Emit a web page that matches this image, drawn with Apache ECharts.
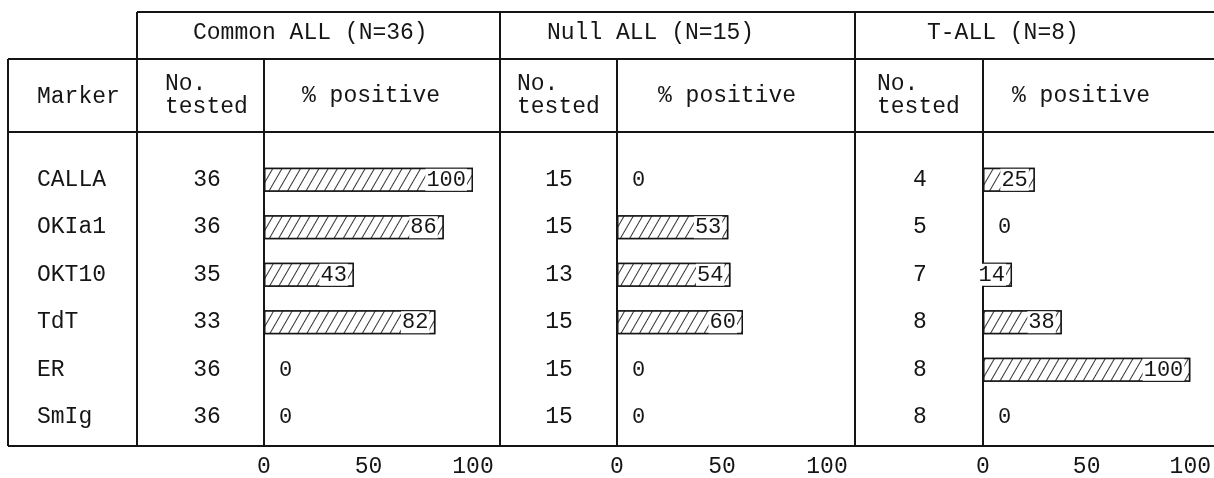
<!DOCTYPE html>
<html>
<head>
<meta charset="utf-8">
<script src="https://cdn.jsdelivr.net/npm/echarts@6/dist/echarts.min.js"></script>
<style>
html,body{margin:0;padding:0;background:#fff;}
#main{width:1214px;height:478px;}
</style>
</head>
<body>
<div id="main"></div>
<script>
// data
var markers = ['CALLA', 'OKIa1', 'OKT10', 'TdT', 'ER', 'SmIg'];
var groupNames = ['Common ALL (N=36)', 'Null ALL (N=15)', 'T-ALL (N=8)'];
var commonTested = [36, 36, 35, 33, 36, 36];
var commonPos = [100, 86, 43, 82, 0, 0];
var nullTested = [15, 15, 13, 15, 15, 15];
var nullPos = [0, 53, 54, 60, 0, 0];
var tTested = [4, 5, 7, 8, 8, 8];
var tPos = [25, 0, 14, 38, 100, 0];
var xMin = 0, xMax = 100, xStep = 50;

var FONT = 'Liberation Mono';
var INK = '#151515';

// layout of the three groups (table column edges)
var groups = [
	{tested: commonTested, pos: commonPos, left: 264, width: 209, numMargin: 57, titleX: 193, noX: 165, pctX: 302},
	{tested: nullTested,   pos: nullPos,   left: 617, width: 210, numMargin: 58, titleX: 547, noX: 517, pctX: 658},
	{tested: tTested,      pos: tPos,      left: 983, width: 211, numMargin: 63, titleX: 927, noX: 877, pctX: 1012}
];
var gridTop = 156, gridHeight = 288;

function barData(vals){
	var out = [];
	for (var i = 0; i < vals.length; i++) {
		if (vals[i] === 0) {
			// empty bar: only the "0" next to the axis
			out.push({value: 0, itemStyle: {borderWidth: 0}, label: {position: 'right', distance: 14, backgroundColor: 'transparent'}});
		} else {
			out.push({value: vals[i]});
		}
	}
	return out;
}

var grid = [], xAxis = [], yAxis = [], series = [];
for (var g = 0; g < groups.length; g++) {
	var gr = groups[g];
	grid.push({left: gr.left, width: gr.width, top: gridTop, height: gridHeight});
	xAxis.push({
		type: 'value', gridIndex: g, min: xMin, max: xMax, interval: xStep,
		axisLine: {show: false}, axisTick: {show: false}, splitLine: {show: false},
		axisLabel: {fontFamily: FONT, fontSize: 23, color: INK, margin: 14}
	});
	yAxis.push({
		type: 'category', gridIndex: g, position: 'left', data: markers, inverse: true,
		axisLine: {show: false}, axisTick: {show: false},
		axisLabel: {
			fontFamily: FONT, fontSize: 23, color: INK, align: 'center', margin: gr.numMargin,
			formatter: (function(arr){
				return function(v, idx){ return String(arr[idx]); };
			})(gr.tested)
		}
	});
	series.push({
		type: 'bar', xAxisIndex: g, yAxisIndex: g, barWidth: 24,
		data: barData(gr.pos),
		itemStyle: {
			color: '#fff', borderColor: INK, borderWidth: 1.5,
			decal: {symbol: 'rect', symbolSize: 1, dashArrayX: [1, 0], dashArrayY: [1, 7], rotation: -Math.PI / 3, color: '#333', backgroundColor: '#fff'}
		},
		label: {
			show: true, position: 'insideRight', distance: 6,
			fontFamily: FONT, fontSize: 22, color: INK,
			backgroundColor: '#fff', padding: [0, 1]
		},
		silent: true, animation: false
	});
}
// marker names column
yAxis.push({
	type: 'category', gridIndex: 0, position: 'left', data: markers, inverse: true,
	axisLine: {show: false}, axisTick: {show: false},
	axisLabel: {fontFamily: FONT, fontSize: 23, color: INK, align: 'left', margin: 227}
});

// table rules
var hLines = [[137, 12, 1214, 12], [8, 59, 1214, 59], [8, 132, 1214, 132], [8, 446, 1214, 446]];
var vLines = [[8, 59, 8, 446], [137, 12, 137, 446], [264, 59, 264, 446], [500, 12, 500, 446],
	[617, 59, 617, 446], [855, 12, 855, 446], [983, 59, 983, 446]];
var graphic = [];
var allLines = hLines.concat(vLines);
for (var i = 0; i < allLines.length; i++) {
	var l = allLines[i];
	graphic.push({type: 'line', shape: {x1: l[0], y1: l[1], x2: l[2], y2: l[3]}, style: {stroke: INK, lineWidth: 2}, silent: true});
}
function txt(x, y, s){
	return {type: 'text', x: x, y: y, style: {text: s, font: '23px "' + FONT + '"', fill: INK, textAlign: 'left', textVerticalAlign: 'middle'}, silent: true};
}
graphic.push(txt(37, 97, 'Marker'));
for (var g = 0; g < groups.length; g++) {
	graphic.push(txt(groups[g].titleX, 33, groupNames[g]));
	graphic.push(txt(groups[g].noX, 84, 'No.'));
	graphic.push(txt(groups[g].noX, 107, 'tested'));
	graphic.push(txt(groups[g].pctX, 96, '% positive'));
}

var chart = echarts.init(document.getElementById('main'));
chart.setOption({
	animation: false,
	backgroundColor: '#fff',
	grid: grid,
	xAxis: xAxis,
	yAxis: yAxis,
	series: series,
	graphic: graphic
});
</script>
</body>
</html>
